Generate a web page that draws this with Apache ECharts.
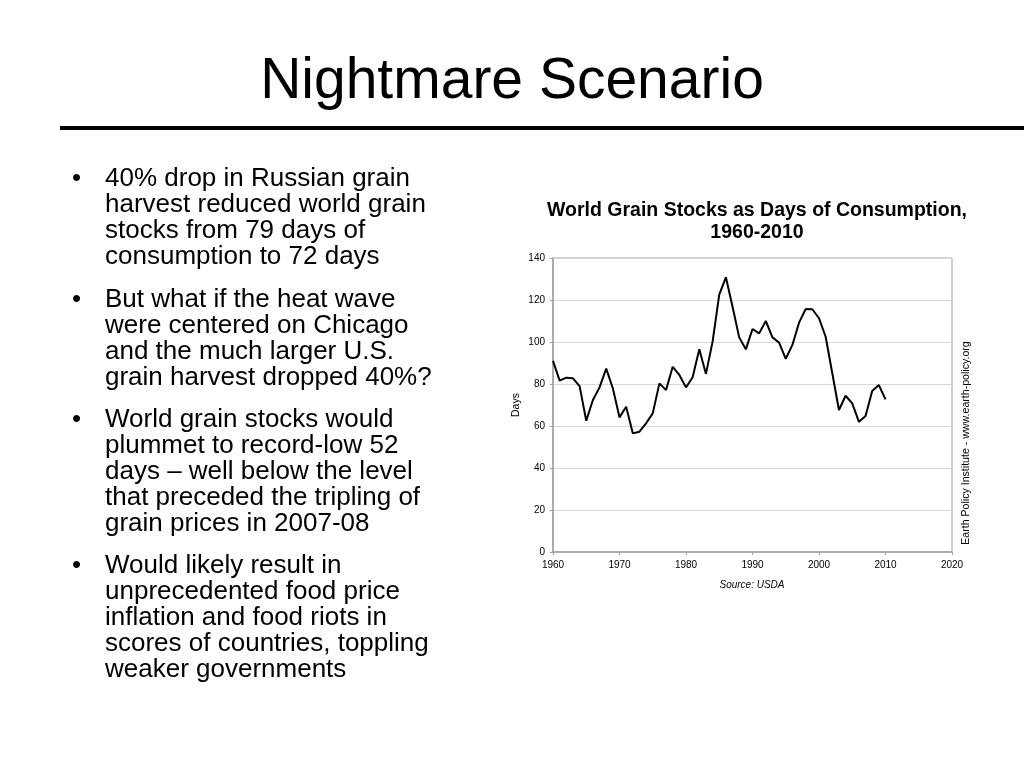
<!DOCTYPE html>
<html>
<head>
<meta charset="utf-8">
<script src="https://cdn.jsdelivr.net/npm/echarts@6/dist/echarts.min.js"></script>
<style>
  html, body { margin: 0; padding: 0; background: #fff; }
  #main { width: 1024px; height: 768px; }
</style>
</head>
<body>
<div id="main"></div>
<script>
// world grain stocks, days of consumption
const years = [1960, 1961, 1962, 1963, 1964, 1965, 1966, 1967, 1968, 1969,
  1970, 1971, 1972, 1973, 1974, 1975, 1976, 1977, 1978, 1979,
  1980, 1981, 1982, 1983, 1984, 1985, 1986, 1987, 1988, 1989,
  1990, 1991, 1992, 1993, 1994, 1995, 1996, 1997, 1998, 1999,
  2000, 2001, 2002, 2003, 2004, 2005, 2006, 2007, 2008, 2009, 2010];
const days = [91, 81.6, 83, 82.7, 79, 62.5, 72.4, 78.4, 87.3, 78,
  64.1, 69.2, 56.5, 57.3, 61.3, 66, 80.3, 77.1, 88.2, 84.3,
  78.4, 83.2, 96.5, 84.8, 100.2, 122.6, 130.8, 116.8, 102.2, 96.5,
  106.2, 104.1, 110, 102.2, 99.7, 92, 98.6, 109.2, 115.7, 115.6,
  111.3, 102.5, 85.1, 67.6, 74.4, 70.8, 62, 64.8, 76.7, 79.5, 72.7];

const slideTitle = 'Nightmare Scenario';
const bullets = [
  ['40% drop in Russian grain', 'harvest reduced world grain', 'stocks from 79 days of', 'consumption to 72 days'],
  ['But what if the heat wave', 'were centered on Chicago', 'and the much larger U.S.', 'grain harvest dropped 40%?'],
  ['World grain stocks would', 'plummet to record-low 52', 'days \u2013 well below the level', 'that preceded the tripling of', 'grain prices in 2007-08'],
  ['Would likely result in', 'unprecedented food price', 'inflation and food riots in', 'scores of countries, toppling', 'weaker governments']
];
const bulletTops = [166, 287, 407, 553];

const chart = echarts.init(document.getElementById('main'));

const FONT = '"Liberation Sans", Arial, Helvetica, sans-serif';

// slide text as graphic elements
const graphics = [
  {
    type: 'text', left: 'center', top: 54,
    style: { text: slideTitle, font: '57px ' + FONT, fill: '#000' }
  },
  {
    type: 'rect', shape: { x: 60, y: 126, width: 964, height: 4 },
    style: { fill: '#000' }
  }
];
bullets.forEach((lines, i) => {
  graphics.push({
    type: 'text', x: 72, y: bulletTops[i],
    style: { text: '\u2022', font: '26px ' + FONT, fill: '#000' }
  });
  graphics.push({
    type: 'text', x: 105, y: bulletTops[i],
    style: { text: lines.join('\n'), font: '26px ' + FONT, lineHeight: 26, fill: '#000' }
  });
});
graphics.push({
  type: 'text', x: 966, y: 443, rotation: Math.PI / 2,
  style: {
    text: 'Earth Policy Institute - www.earth-policy.org',
    font: '10.6px ' + FONT, fill: '#000', align: 'center', verticalAlign: 'middle'
  }
});
graphics.push({
  type: 'text', x: 752, y: 585,
  style: {
    text: 'Source: USDA', font: 'italic 10px ' + FONT, fill: '#000',
    align: 'center', verticalAlign: 'middle'
  }
});

const option = {
  animation: false,
  title: {
    text: 'World Grain Stocks as Days of Consumption,\n1960-2010',
    left: 752, top: 195, textAlign: 'center',
    textStyle: { fontFamily: FONT, fontWeight: 'bold', fontSize: 19.5, lineHeight: 22, color: '#000' }
  },
  grid: {
    left: 553, right: 72, top: 258, bottom: 216,
    show: true, borderColor: '#a0a0a0', borderWidth: 1
  },
  xAxis: {
    type: 'value', min: 1960, max: 2020, interval: 10,
    axisLine: { show: true, lineStyle: { color: '#a0a0a0', width: 1.5 } },
    axisTick: { show: true, length: 3, lineStyle: { color: '#a0a0a0' } },
    axisLabel: { fontFamily: FONT, fontSize: 10, color: '#000', margin: 8, formatter: v => String(v) },
    splitLine: { show: false }
  },
  yAxis: {
    type: 'value', min: 0, max: 140, interval: 20,
    name: 'Days', nameLocation: 'middle', nameGap: 31, nameRotate: 90,
    nameTextStyle: { fontFamily: FONT, fontSize: 10.5, color: '#000' },
    axisLine: { show: true, lineStyle: { color: '#a0a0a0', width: 1.5 } },
    axisTick: { show: true, length: 3, lineStyle: { color: '#a0a0a0' } },
    axisLabel: { fontFamily: FONT, fontSize: 10, color: '#000', margin: 8 },
    splitLine: { show: true, lineStyle: { color: '#d8d8d8', width: 1 } }
  },
  series: [{
    type: 'line',
    data: years.map((y, i) => [y, days[i]]),
    showSymbol: false,
    lineStyle: { color: '#000', width: 2 }
  }],
  graphic: graphics
};

chart.setOption(option);
</script>
</body>
</html>
